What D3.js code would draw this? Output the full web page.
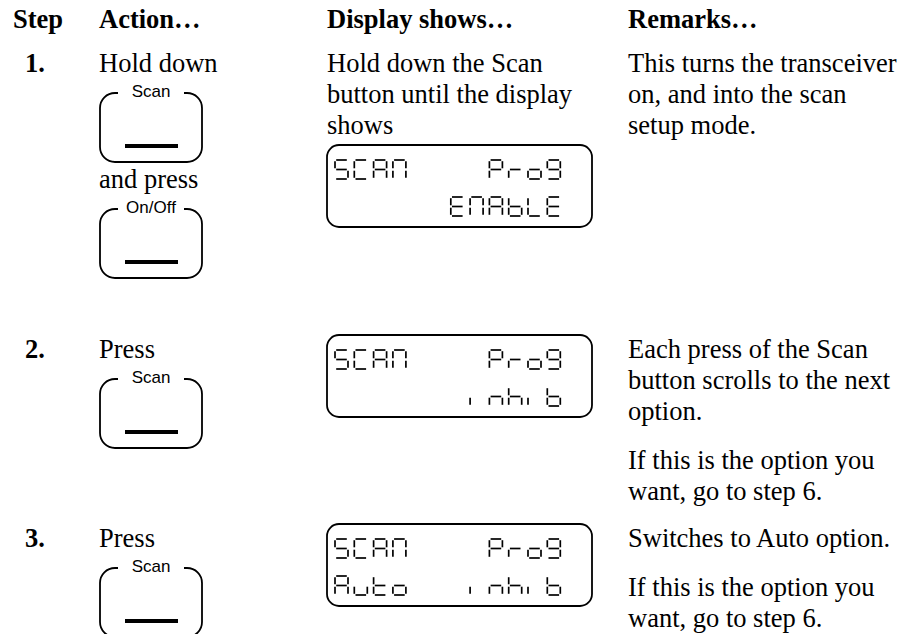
<!DOCTYPE html>
<html><head><meta charset="utf-8">
<script src="https://cdn.jsdelivr.net/npm/d3@7/dist/d3.min.js"></script>
<style>body{margin:0;background:#fff}</style>
</head><body>
<svg id="c" width="901" height="634"></svg>
<script>
// ---------- content ----------
const headers = ["Step", "Action…", "Display shows…", "Remarks…"];
const stepNumbers = ["1.", "2.", "3."];
const actionItems = [
  [["text", "Hold down"], ["button", "Scan"], ["text", "and press"], ["button", "On/Off"]],
  [["text", "Press"], ["button", "Scan"]],
  [["text", "Press"], ["button", "Scan"]]
];
const displayTexts = [["Hold down the Scan", "button until the display", "shows"], [], []];
const lcdRows = [
  ["SCAN    Prog", "      ENABLE"],
  ["SCAN    Prog", "       inhib"],
  ["SCAN    Prog", "Auto   inhib"]
];
const remarks = [
  [["This turns the transceiver", "on, and into the scan", "setup mode."]],
  [["Each press of the Scan", "button scrolls to the next", "option."], ["If this is the option you", "want, go to step 6."]],
  [["Switches to Auto option."], ["If this is the option you", "want, go to step 6."]]
];
// seven-segment glyph table (a top, b up-right, c low-right, d bottom, e low-left, f up-left, g middle)
const segTable = {
  S: "afgcd", C: "afed", A: "abcefg", N: "abcef", P: "abefg", r: "eg", o: "cdeg", g: "abcdfg",
  E: "adefg", B: "cdefg", L: "def", i: "e", n: "ceg", h: "cefg", b: "cdefg", u: "cde", t: "defg"
};

// ---------- layout ----------
const svg = d3.select("#c");
const serif = "'Liberation Serif','Times New Roman',Times,serif";
const sans = "'Liberation Sans',Arial,Helvetica,sans-serif";
const FS = 26.5;
const colX = d3.scaleOrdinal().domain(headers).range([13, 99, 327, 628]);
const stepY = d3.scaleOrdinal().domain(stepNumbers).range([72, 358, 547]);
const lineH = 31, paraGap = 18;

// headers
svg.selectAll("text.hdr").data(headers).join("text").attr("class", "hdr")
  .attr("x", d => colX(d)).attr("y", 28)
  .attr("font-family", serif).attr("font-weight", "bold").attr("font-size", FS)
  .text(d => d);

// step numbers
svg.selectAll("text.num").data(stepNumbers).join("text").attr("class", "num")
  .attr("x", 25).attr("y", d => stepY(d))
  .attr("font-family", serif).attr("font-weight", "bold").attr("font-size", FS)
  .text(d => d);

// buttons
function drawButton(g, x0, top, label) {
  const w = 102, h = 69, r = 15;
  const gapL = x0 + 18, gapR = x0 + 84;
  const p = d3.path();
  p.moveTo(gapL, top);
  p.lineTo(x0 + r, top);
  p.arcTo(x0, top, x0, top + r, r);
  p.lineTo(x0, top + h - r);
  p.arcTo(x0, top + h, x0 + r, top + h, r);
  p.lineTo(x0 + w - r, top + h);
  p.arcTo(x0 + w, top + h, x0 + w, top + h - r, r);
  p.lineTo(x0 + w, top + r);
  p.arcTo(x0 + w, top, x0 + w - r, top, r);
  p.lineTo(gapR, top);
  g.append("path").attr("d", p.toString()).attr("fill", "none").attr("stroke", "#000").attr("stroke-width", 1.8);
  g.append("text").attr("x", x0 + w / 2).attr("y", top + 4).attr("text-anchor", "middle")
    .attr("font-family", sans).attr("font-size", 17).text(label);
  g.append("rect").attr("x", x0 + 25).attr("y", top + 51).attr("width", 53).attr("height", 4).attr("fill", "#000");
  return top + h;
}

actionItems.forEach((items, si) => {
  const g = svg.append("g");
  let y = stepY(stepNumbers[si]);
  items.forEach(([kind, v]) => {
    if (kind === "text") {
      g.append("text").attr("x", colX(headers[1])).attr("y", y)
        .attr("font-family", serif).attr("font-size", FS).text(v);
    } else {
      const bottom = drawButton(g, 100, y + 21, v);
      y = bottom + 26;
    }
  });
});

// display column text
displayTexts.forEach((lines, si) => {
  const y0 = stepY(stepNumbers[si]);
  svg.append("g").selectAll("text").data(lines).join("text")
    .attr("x", colX(headers[2])).attr("y", (d, i) => y0 + i * lineH)
    .attr("font-family", serif).attr("font-size", FS).text(d => d);
});

// LCDs
const lcdW = 265, lcdH = 82;
const cellX = d3.scaleLinear().domain([0, 11]).range([8, 8 + 11 * 19.3]);
const gw = 13, gh = 19;
function segLines(x, y, s) {
  const m = gh / 2, o = 1.2;
  const segs = {
    a: [x + o, y, x + gw - o, y], b: [x + gw, y + o, x + gw, y + m - o], c: [x + gw, y + m + o, x + gw, y + gh - o],
    d: [x + o, y + gh, x + gw - o, y + gh], e: [x, y + m + o, x, y + gh - o], f: [x, y + o, x, y + m - o],
    g: [x + o, y + m, x + gw - o, y + m]
  };
  return s.split("").map(k => segs[k]);
}
lcdRows.forEach((rows, si) => {
  const yb = stepY(stepNumbers[si]);
  const top = si === 0 ? yb + 2 * lineH + 11 : yb - 23;
  const x0 = colX(headers[2]);
  const g = svg.append("g").attr("transform", `translate(${x0},${top})`);
  g.append("rect").attr("x", 0).attr("y", 0).attr("width", lcdW).attr("height", lcdH).attr("rx", 12)
    .attr("fill", "none").attr("stroke", "#000").attr("stroke-width", 1.8);
  rows.forEach((row, ri) => {
    const ry = ri === 0 ? 15 : 52;
    row.split("").forEach((ch, ci) => {
      if (ch === " ") return;
      const code = segTable[ch] || "";
      g.append("g").selectAll("line").data(segLines(cellX(ci), ry, code)).join("line")
        .attr("x1", d => d[0]).attr("y1", d => d[1]).attr("x2", d => d[2]).attr("y2", d => d[3])
        .attr("stroke", "#000").attr("stroke-width", 1.7);
    });
  });
});

// remarks
remarks.forEach((paras, si) => {
  let y = stepY(stepNumbers[si]);
  const g = svg.append("g");
  paras.forEach((lines) => {
    lines.forEach(l => {
      g.append("text").attr("x", colX(headers[3])).attr("y", y)
        .attr("font-family", serif).attr("font-size", FS).text(l);
      y += lineH;
    });
    y += paraGap;
  });
});
</script>
</body></html>
